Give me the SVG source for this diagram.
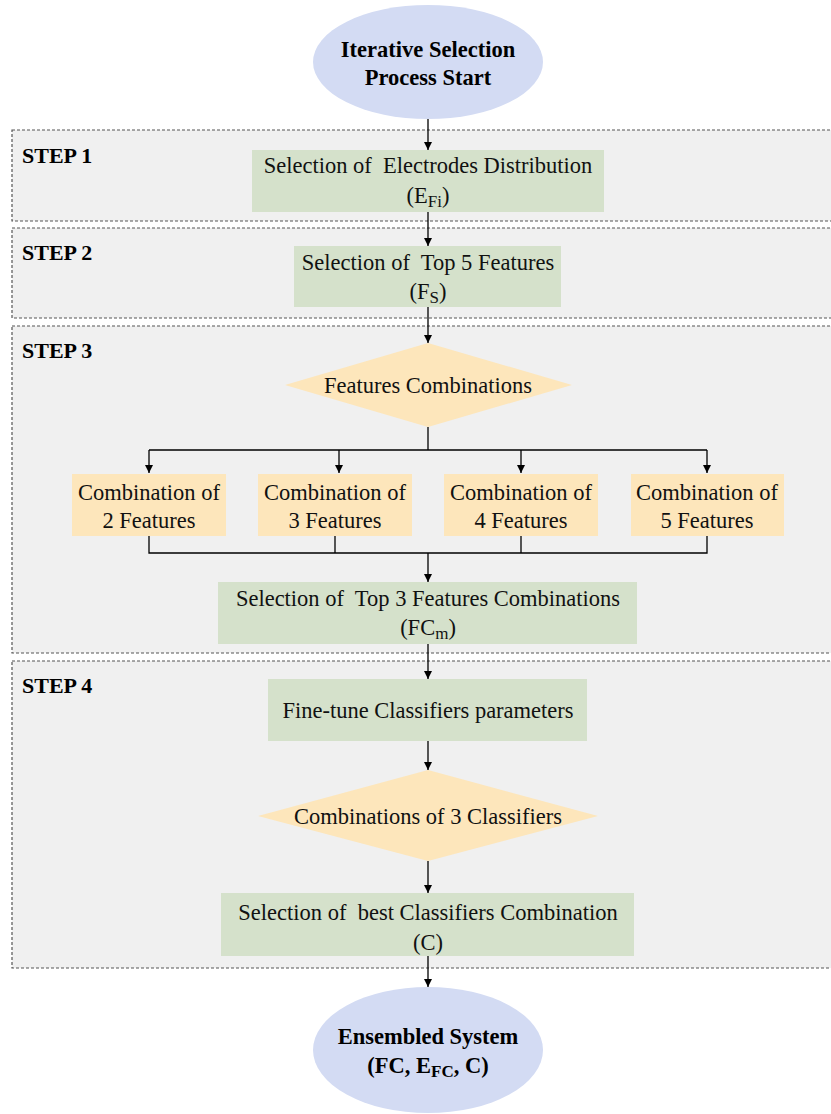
<svg xmlns="http://www.w3.org/2000/svg" width="831" height="1114" viewBox="0 0 831 1114">
<defs>
<marker id="ah" viewBox="0 0 10 10" refX="10" refY="5" markerWidth="8" markerHeight="8" markerUnits="userSpaceOnUse" orient="auto"><path d="M0,0 L10,5 L0,10 z" fill="#000"/></marker>
<style>
.step{fill:#f0f0f0;stroke:#555;stroke-width:1.2;stroke-dasharray:3 2}
.lbl{font-family:"Liberation Serif",serif;font-weight:bold;font-size:22px;fill:#000}
.term{fill:#d3dbf3}
.proc{fill:#d5e1cb}
.dec{fill:#fde6bb}
.t{font-family:"Liberation Serif",serif;font-size:22.5px;fill:#111;text-anchor:middle;white-space:pre}
.tb{font-family:"Liberation Serif",serif;font-size:22.5px;font-weight:bold;fill:#000;text-anchor:middle}
.sub{font-size:17px}
.c{fill:none;stroke:#000;stroke-width:1.3}
</style>
</defs>
<rect width="831" height="1114" fill="#fff"/>
<g id="steps">
<rect class="step" x="12" y="130" width="830" height="91"/>
<rect class="step" x="12" y="228" width="830" height="90"/>
<rect class="step" x="12" y="326" width="830" height="327"/>
<rect class="step" x="12" y="661" width="830" height="307"/>
<text class="lbl" x="22" y="163">STEP 1</text>
<text class="lbl" x="22" y="260">STEP 2</text>
<text class="lbl" x="22" y="358">STEP 3</text>
<text class="lbl" x="22" y="693">STEP 4</text>
</g>
<g id="connectors">
<line class="c" x1="428" y1="118" x2="428" y2="150" marker-end="url(#ah)"/>
<line class="c" x1="428" y1="212" x2="428" y2="246" marker-end="url(#ah)"/>
<line class="c" x1="428" y1="307" x2="428" y2="343" marker-end="url(#ah)"/>
<polyline class="c" points="428,427 428,450"/>
<polyline class="c" points="149,450 707,450"/>
<line class="c" x1="149" y1="450" x2="149" y2="473" marker-end="url(#ah)"/>
<line class="c" x1="339" y1="450" x2="339" y2="473" marker-end="url(#ah)"/>
<line class="c" x1="521" y1="450" x2="521" y2="473" marker-end="url(#ah)"/>
<line class="c" x1="707" y1="450" x2="707" y2="473" marker-end="url(#ah)"/>
<polyline class="c" points="149,536 149,553 707,553 707,536"/>
<line class="c" x1="335" y1="536" x2="335" y2="553"/>
<line class="c" x1="521" y1="536" x2="521" y2="553"/>
<line class="c" x1="428" y1="553" x2="428" y2="582" marker-end="url(#ah)"/>
<line class="c" x1="428" y1="644" x2="428" y2="679" marker-end="url(#ah)"/>
<line class="c" x1="428" y1="741" x2="428" y2="770" marker-end="url(#ah)"/>
<line class="c" x1="428" y1="861" x2="428" y2="893" marker-end="url(#ah)"/>
<line class="c" x1="428" y1="956" x2="428" y2="987" marker-end="url(#ah)"/>
</g>
<g id="start">
<ellipse class="term" cx="428" cy="62" rx="115" ry="57"/>
<text class="tb" x="428" y="57">Iterative Selection</text>
<text class="tb" x="428" y="85">Process Start</text>
</g>
<g id="electrodes">
<rect class="proc" x="252" y="150" width="352" height="62"/>
<text class="t" x="428" y="173">Selection of  Electrodes Distribution</text>
<text class="t" x="428" y="203">(E<tspan class="sub" dy="4">Fi</tspan><tspan dy="-4">)</tspan></text>
</g>
<g id="top5">
<rect class="proc" x="294" y="246" width="267" height="61"/>
<text class="t" x="428" y="270">Selection of  Top 5 Features</text>
<text class="t" x="428" y="299">(F<tspan class="sub" dy="4">S</tspan><tspan dy="-4">)</tspan></text>
</g>
<g id="featcomb">
<polygon class="dec" points="428,343 572,385 428,427 285,385"/>
<text class="t" x="428" y="393">Features Combinations</text>
</g>
<g id="comb2">
<rect class="dec" x="72" y="474" width="154" height="62"/>
<text class="t" x="149" y="500">Combination of</text>
<text class="t" x="149" y="528">2 Features</text>
</g>
<g id="comb3">
<rect class="dec" x="258" y="474" width="154" height="62"/>
<text class="t" x="335" y="500">Combination of</text>
<text class="t" x="335" y="528">3 Features</text>
</g>
<g id="comb4">
<rect class="dec" x="444" y="474" width="154" height="62"/>
<text class="t" x="521" y="500">Combination of</text>
<text class="t" x="521" y="528">4 Features</text>
</g>
<g id="comb5">
<rect class="dec" x="631" y="474" width="153" height="62"/>
<text class="t" x="707" y="500">Combination of</text>
<text class="t" x="707" y="528">5 Features</text>
</g>
<g id="top3">
<rect class="proc" x="218" y="582" width="419" height="62"/>
<text class="t" x="428" y="606">Selection of  Top 3 Features Combinations</text>
<text class="t" x="428" y="635">(FC<tspan class="sub" dy="4">m</tspan><tspan dy="-4">)</tspan></text>
</g>
<g id="finetune">
<rect class="proc" x="268" y="679" width="319" height="62"/>
<text class="t" x="428" y="718">Fine-tune Classifiers parameters</text>
</g>
<g id="clfcomb">
<polygon class="dec" points="428,770 598,816 428,861 258,816"/>
<text class="t" x="428" y="824">Combinations of 3 Classifiers</text>
</g>
<g id="best">
<rect class="proc" x="221" y="893" width="413" height="63"/>
<text class="t" x="428" y="920">Selection of  best Classifiers Combination</text>
<text class="t" x="428" y="950">(C)</text>
</g>
<g id="end">
<ellipse class="term" cx="428" cy="1050" rx="115" ry="63"/>
<text class="tb" x="428" y="1044">Ensembled System</text>
<text class="tb" x="428" y="1073">(FC, E<tspan class="sub" dy="4">FC</tspan><tspan dy="-4">, C)</tspan></text>
</g>
</svg>
